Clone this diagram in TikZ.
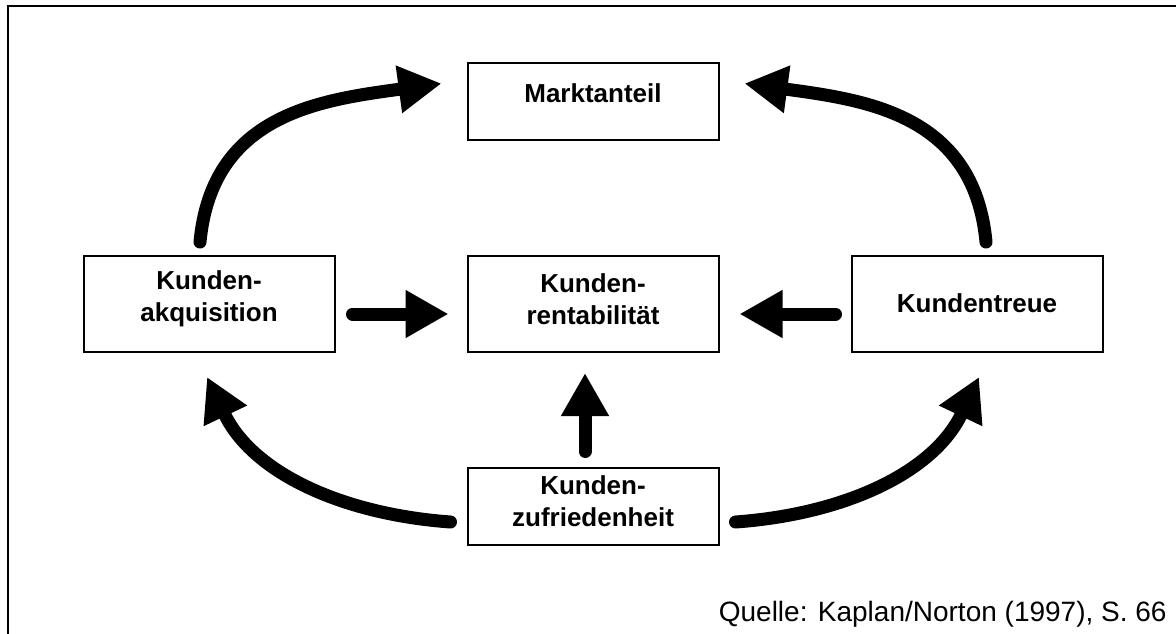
\documentclass[tikz,border=0pt]{standalone}
\usepackage{fontspec}
\setmainfont{Liberation Sans}
\usetikzlibrary{arrows.meta,calc}

\tikzset{
  box/.style={draw, line width=1pt, minimum width=125.5pt, inner sep=0pt},
  lowbox/.style={box, minimum height=38.5pt},
  highbox/.style={box, minimum height=48pt},
  boxtext/.style={align=center, inner sep=0pt,
    font=\bfseries\fontsize{13}{16}\selectfont},
  bigarrow/.style={line width=6.5pt, line cap=round,
    -{Triangle[length=21.5pt,width=22.5pt]}},
  frameline/.style={line width=1pt},
  sourcetext/.style={inner sep=0pt, font=\fontsize{14}{16}\selectfont}
}

\begin{document}
\begin{tikzpicture}[x=0.5pt, y=-0.5pt]
  \useasboundingbox (0,0) rectangle (1176,633);

  % outer frame
  \draw[frameline] (8,660) -- (8,6) -- (1200,6);

  % boxes
  \node[lowbox]  (markt) at (593,101.5) {};
  \node[highbox] (akq)   at (209,304) {};
  \node[highbox] (rent)  at (593,304) {};
  \node[highbox] (treue) at (977,304) {};
  \node[lowbox]  (zufr)  at (593,506) {};

  % box labels
  \node[boxtext] (markt-t) at ($(markt)+(0,-8)$) {Marktanteil};
  \node[boxtext] (akq-t)   at ($(akq)+(0,-5)$)   {Kunden-\\akquisition};
  \node[boxtext] (rent-t)  at ($(rent)+(0,-5)$)  {Kunden-\\rentabilität};
  \node[boxtext] (treue-t) at ($(treue)+(0,-1)$) {Kundentreue};
  \node[boxtext] (zufr-t)  at ($(zufr)+(0,-5)$)  {Kunden-\\zufriedenheit};

  % straight arrows into the centre
  \draw[bigarrow] ($(akq.east)+(17,10)$) -- ($(rent.west)+(-18,10)$);
  \draw[bigarrow] ($(treue.west)+(-15,10)$) -- ($(rent.east)+(20,10)$);
  \draw[bigarrow] ($(zufr.north)+(-8,-15)$) -- ($(rent.south)+(-8,20)$);

  % curved arrows around the outside
  \draw[bigarrow] ($(akq.north)+(-9,-13)$)
    .. controls +(12,-128) and +(-121,16.5) .. ($(markt.west)+(-25,-18)$);
  \draw[bigarrow] ($(treue.north)+(9,-13)$)
    .. controls +(-12,-128) and +(121,16.5) .. ($(markt.east)+(25,-18)$);
  \draw[bigarrow] ($(zufr.west)+(-16,16)$)
    .. controls +(-110,-8) and +(45,95) .. ($(akq.south)+(-2,24)$);
  \draw[bigarrow] ($(zufr.east)+(16,16)$)
    .. controls +(110,-8) and +(-45,95) .. ($(treue.south)+(2,24)$);

  % source
  \node[sourcetext, anchor=base east] (source) at (1167,621)
    {Quelle: Kaplan/Norton (1997), S. 66};
\end{tikzpicture}
\end{document}
